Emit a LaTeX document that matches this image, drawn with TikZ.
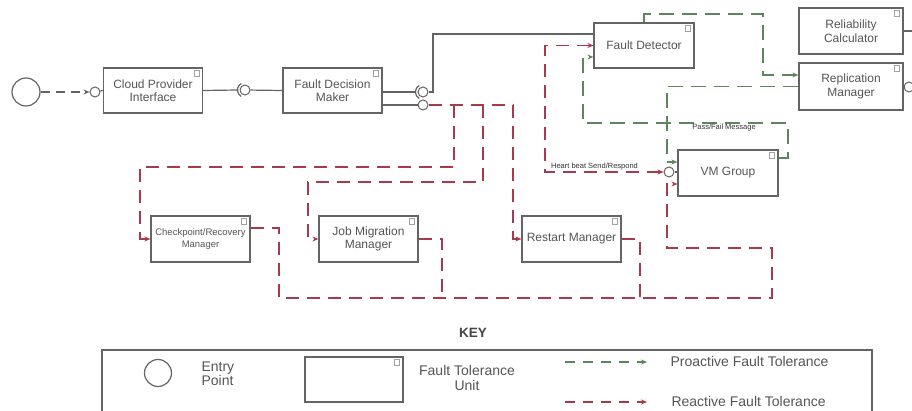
\documentclass[tikz,border=0pt]{standalone}
\usepackage{fontspec}
\setmainfont{Liberation Sans}
\usetikzlibrary{arrows.meta}
\definecolor{rred}{RGB}{168,58,76}
\definecolor{pgreen}{RGB}{94,134,94}
\definecolor{txt}{RGB}{85,85,85}
\definecolor{bord}{RGB}{100,100,100}
\begin{document}
\begin{tikzpicture}[x=1pt,y=-1pt,
 unit/.style={draw=bord, line width=1.2pt, fill=white, minimum width=99pt, minimum height=45pt, inner sep=0pt, align=center, text=txt, font=\fontsize{12}{13.5}\selectfont},
 reac/.style={draw=rred, line width=1.8pt, dash pattern=on 13pt off 8pt},
 proa/.style={draw=pgreen, line width=1.8pt, dash pattern=on 15pt off 8pt},
 tip/.style={-{Stealth[length=6pt,width=5pt]}},
 twotip/.style={{Stealth[length=6pt,width=5pt]}-{Stealth[length=6pt,width=5pt]}},
 ball/.style={circle, draw=bord, line width=1pt, fill=white, minimum size=10pt, inner sep=0pt},
 solidc/.style={draw=bord, line width=1.2pt},
 small/.style={font=\fontsize{7.5}{8}\selectfont, text=txt!60!black, inner sep=1pt},
 keytext/.style={font=\fontsize{14}{14.5}\selectfont, text=txt, align=center},
 icon/.style={draw=bord!60, line width=0.5pt},
]
\fill[white] (0,0) rectangle (912,411);
\useasboundingbox (0,0) rectangle (912,411);
\clip (0,0) rectangle (912,411);

% nodes
\node[circle, draw=bord, line width=1.2pt, minimum size=28pt, inner sep=0pt] (entry) at (26,92) {};
\node[ball] (b0) at (95,92) {};
\node[unit] (cpi) at (153,90.5) {Cloud Provider\\Interface};
\node[unit] (fdm) at (332.5,90.5) {Fault Decision\\Maker};
\node[ball] (b1) at (245,90) {};
\node[ball] (b2) at (423,92) {};
\node[ball] (b3) at (423,105) {};
\node[unit, minimum width=100pt] (fd) at (644,45.5) {Fault Detector};
\node[unit, minimum width=104pt, minimum height=46pt] (rc) at (851,31) {Reliability\\Calculator};
\node[unit, minimum width=104pt, minimum height=47pt] (rm) at (851,86.5) {Replication\\Manager};
\node[ball] (b4) at (909,87) {};
\node[unit, minimum width=100pt, minimum height=46pt] (vm) at (728,173) {VM Group};
\node[ball] (b5) at (669,172) {};
\node[unit, minimum height=46pt, font=\fontsize{9.5}{11.5}\selectfont] (cp) at (200.5,239) {Checkpoint/Recovery\\Manager};
\node[unit, minimum height=46pt] (jm) at (368.5,239) {Job Migration\\Manager};
\node[unit, minimum height=46pt] (rs) at (571.5,239) {Restart Manager};

% coordinates
\coordinate (c1) at (433,34);
\coordinate (r1) at (454,105);
\coordinate (r2) at (483,105);
\coordinate (r3) at (513,105);
\coordinate (c2) at (140,167);
\coordinate (c3) at (308,182);
\coordinate (k1) at (279,298);
\coordinate (k2) at (772,298);
\coordinate (k3) at (667,248);
\coordinate (k4) at (442,298);
\coordinate (k5) at (640,298);
\coordinate (h1) at (545,172);
\coordinate (g2) at (763,14);
\coordinate (g3) at (667,86.5);
\coordinate (g4) at (788,123);
\coordinate (g5) at (583,123);
\coordinate (e1) at (912,31);

% solid connectors
\draw[draw=bord, line width=1.3pt, dash pattern=on 9pt off 6pt, tip] (entry) -- (b0);
\draw[solidc] (b0) -- (cpi.west);
\draw[solidc] (cpi.east) -- ([xshift=-7.5pt]b1.center);
\draw[solidc] ([shift={(-3.75pt,6.5pt)}]b1.center) arc[start angle=120, end angle=240, radius=7.5pt];
\draw[solidc] (b1) -- (fdm.west);
\draw[solidc] (fdm.east |- b2.center) -- ([xshift=-7.5pt]b2.center);
\draw[solidc] ([shift={(-3.75pt,6.5pt)}]b2.center) arc[start angle=120, end angle=240, radius=7.5pt];
\draw[solidc] (b2.east) -| (c1) -- (c1 -| fd.west);
\draw[solidc] (fdm.east |- b3.center) -- (b3);
\draw[solidc] (rc.east) -- (e1);
\draw[solidc] (rm.east |- b4.center) -- (b4);
\draw[solidc] (b5) -- (vm.west |- b5.center);

% reactive
\draw[reac] (b3.east) -- (r3);
\draw[reac,tip] (r3) |- (rs.west);
\draw[reac,tip] (r1) |- (c2) |- (cp.west);
\draw[reac,tip] (r2) |- (c3) |- (jm.west);
\draw[reac,tip] ([yshift=11pt]cp.east) -| (k1) -- (k2) |- (k3) |- ([yshift=-11pt]vm.west);
\draw[reac] (jm.east) -| (k4);
\draw[reac] (rs.east) -| (k5);
\draw[reac,twotip] (b5.west) -- (h1) |- (fd.west);
\node[small] (hb) at (594.5,167) {Heart beat Send/Respond};

% proactive
\draw[proa,tip] (fd.north) |- (g2) |- ([yshift=11.5pt]rm.west);
\draw[proa,tip] (rm.west) -- (g3) |- ([yshift=11pt]vm.west);
\draw[proa,tip] ([yshift=15pt]vm.east) -| (g4) -- (g5) |- ([yshift=-11.5pt]fd.west);
\node[small] (pf) at (724,127.5) {Pass/Fail Message};

% key
\node[font=\bfseries\fontsize{13.5}{15}\selectfont, text=txt!80!black] (key) at (473,333) {KEY};
\draw[draw=bord, line width=1.2pt] (102,350) rectangle (872,425);
\node[circle, draw=bord, line width=1.2pt, minimum size=27pt, inner sep=0pt] (kentry) at (158,373) {};
\node[keytext, align=left, anchor=west] (kentrytxt) at (198,374) {Entry\\Point};
\node[unit, minimum width=98pt, minimum height=45pt] (keyunit) at (354,379.5) {};
\node[keytext] (kunittxt) at (467,378) {Fault Tolerance\\Unit};
\coordinate (ka1) at (565,362);
\coordinate (ka2) at (647,362);
\coordinate (kb1) at (565,402);
\coordinate (kb2) at (647,402);
\draw[proa, dash pattern=on 10pt off 8pt, tip] (ka1) -- (ka2);
\draw[reac, dash pattern=on 10pt off 8pt, tip] (kb1) -- (kb2);
\node[keytext, anchor=west] (kpro) at (667,361) {Proactive Fault Tolerance};
\node[keytext, anchor=west] (krea) at (668,401) {Reactive Fault Tolerance};

% icons
\foreach \n in {cpi,fdm,fd,rc,rm,vm,cp,jm,rs,keyunit}
  \draw[icon] ([xshift=-9pt,yshift=-3pt]\n.north east) rectangle ++(5pt,-6pt);
\end{tikzpicture}
\end{document}
